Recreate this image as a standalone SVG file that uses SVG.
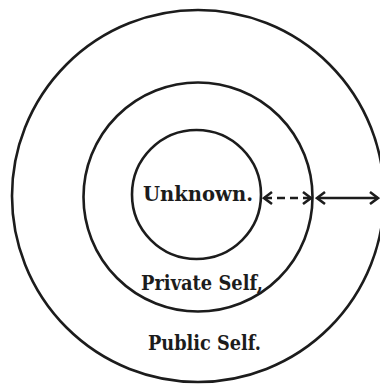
<svg xmlns="http://www.w3.org/2000/svg" width="380" height="385" viewBox="0 0 380 385">
  <style>
    .ring { fill: none; stroke: #1c1c1c; stroke-width: 2.6; }
    .label { font-family: "DejaVu Serif", "Liberation Serif", serif; font-weight: bold; font-size: 19.5px; fill: #1c1c1c; }
    .link { stroke: #1c1c1c; stroke-width: 2.6; fill: none; }
    .dashed { stroke-dasharray: 8 5; }
  </style>
  <defs>
    <marker id="chev" viewBox="-10 -8 12 16" markerWidth="12" markerHeight="16" refX="0" refY="0" orient="auto-start-reverse" markerUnits="userSpaceOnUse">
      <path d="M -8 -6 L 0 0 L -8 6" fill="none" stroke="#1c1c1c" stroke-width="2.6" stroke-linejoin="miter" stroke-dasharray="none"/>
    </marker>
  </defs>
  <rect width="380" height="385" fill="#ffffff"/>

  <g id="public-self">
    <circle class="ring" cx="198" cy="196" r="186"/>
    <text class="label" x="148" y="350" textLength="113" lengthAdjust="spacingAndGlyphs">Public Self.</text>
  </g>

  <g id="private-self">
    <circle class="ring" cx="198" cy="197" r="114.5"/>
    <text class="label" x="141" y="290" textLength="122" lengthAdjust="spacingAndGlyphs">Private Self,</text>
  </g>

  <g id="unknown">
    <circle class="ring" cx="196.5" cy="194.5" r="64.5"/>
    <text class="label" x="143" y="201" textLength="110" lengthAdjust="spacingAndGlyphs">Unknown.</text>
  </g>

  <g id="connectors">
    <line class="link dashed" x1="264" y1="198" x2="311" y2="198" marker-start="url(#chev)" marker-end="url(#chev)"/>
    <line class="link" x1="317" y1="198" x2="378" y2="198" marker-start="url(#chev)" marker-end="url(#chev)"/>
  </g>
</svg>
